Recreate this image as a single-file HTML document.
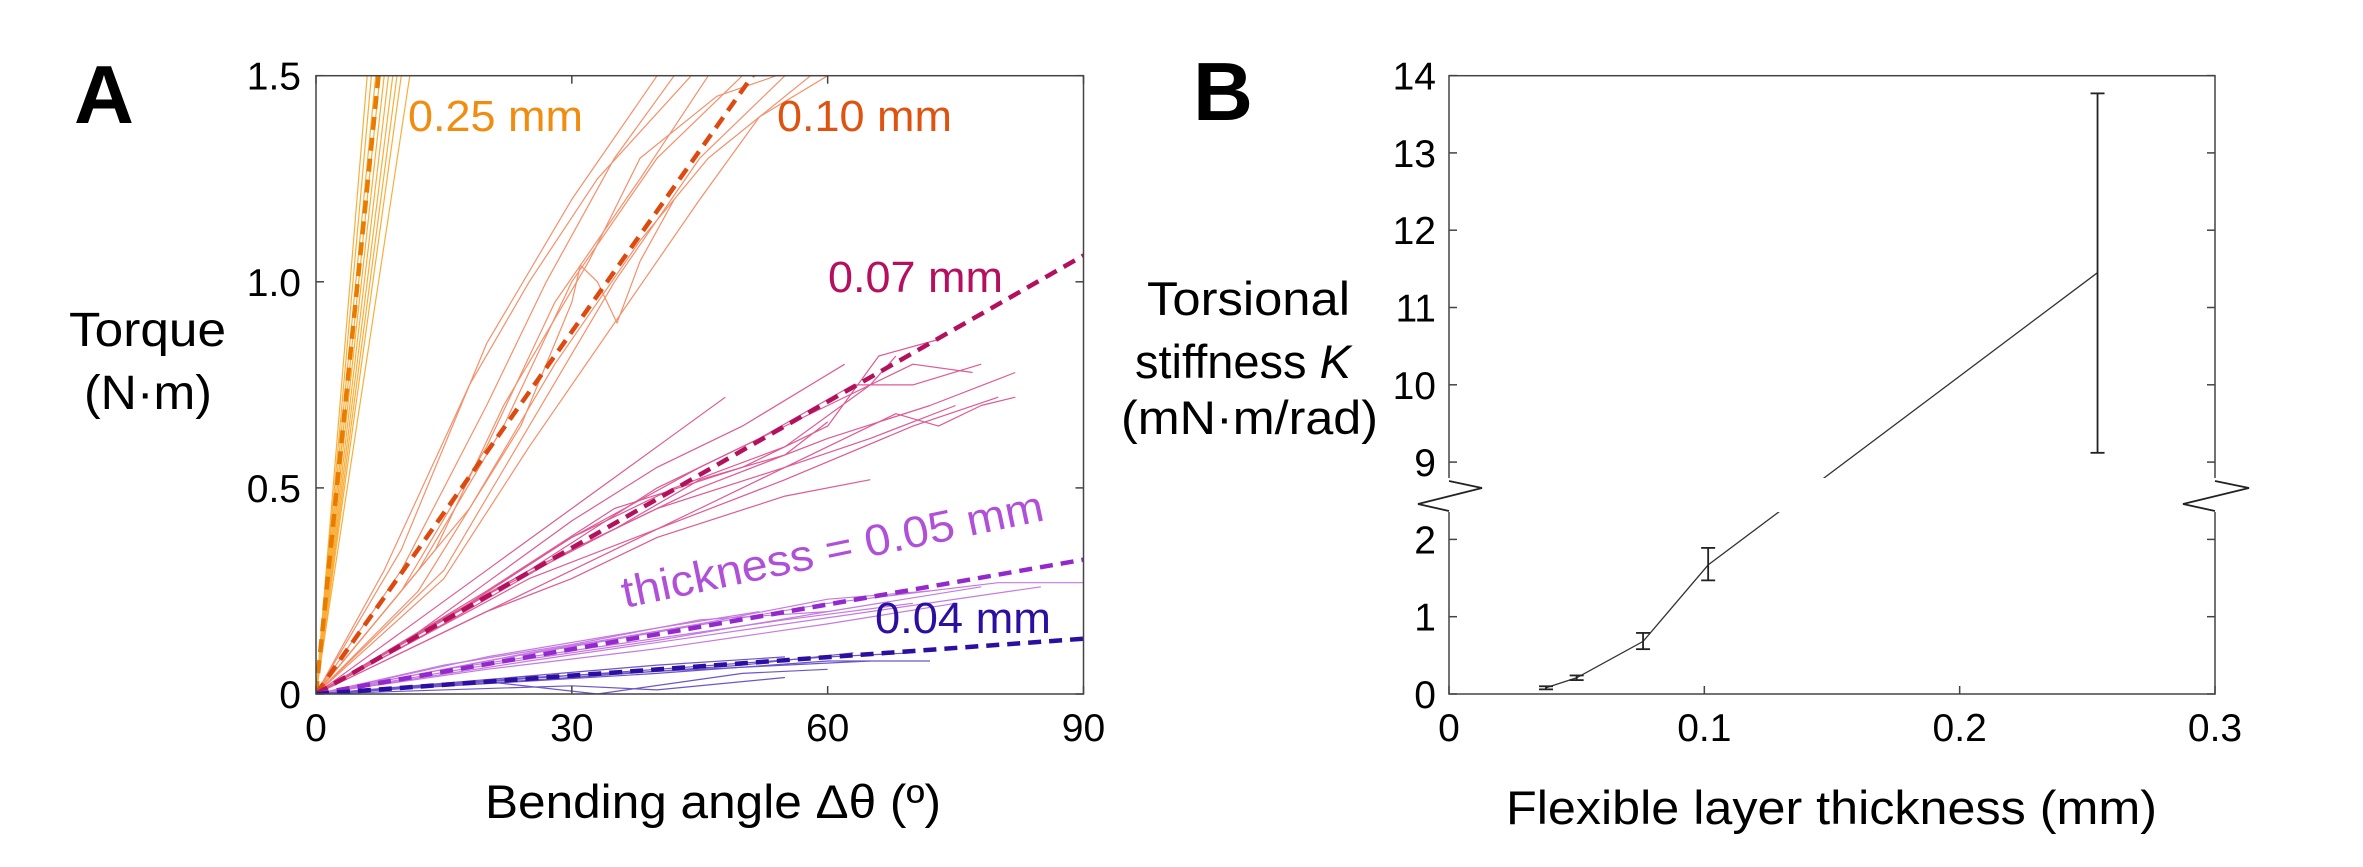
<!DOCTYPE html>
<html><head><meta charset="utf-8"><style>
html,body{margin:0;padding:0;background:#fff;overflow:hidden;}
svg{display:block;}
text{font-family:"Liberation Sans",sans-serif;}
</style></head><body>
<svg id="fig" width="2363" height="867" viewBox="0 0 2363 867" xmlns="http://www.w3.org/2000/svg">
<defs><clipPath id="clipA"><rect x="316" y="75.7" width="768" height="618.3"/></clipPath></defs>
<rect width="2363" height="867" fill="#fff"/>
<text x="74" y="123" font-size="83" font-weight="bold">A</text>
<text x="1193" y="120" font-size="83" font-weight="bold">B</text>
<g id="gA"></g>
<g id="gB"></g>
</svg>
<script>
// ---------- Panel A data ----------
const groupNames = ["0.25 mm","0.10 mm","0.07 mm","0.05 mm","0.04 mm"];
const fitSlopes = [0.2046, 0.0293, 0.01182, 0.00362, 0.00149]; // N·m per degree
const xTicksA = [0,30,60,90];
const yTicksA = [0,0.5,1.0,1.5];
const yTickLabelsA = ["0","0.5","1.0","1.5"];
const curves025 = [[[0,0],[6.5,1.5]],[[0,0],[7,1.5]],[[0,0],[7.5,1.5]],[[0,0],[8,1.5]],[[0,0],[8.5,1.5]],[[0,0],[9,1.5]],[[0,0],[9.5,1.5]],[[0,0],[10,1.5]],[[0,0],[11,1.5]],[[0,0],[6,1.5]]];
const curves010 = [
[[0,0],[10,0.35],[20,0.85],[30,1.2],[40,1.5]],
[[0,0],[10,0.3],[20,0.7],[27,1.0],[35,1.3],[42,1.5]],
[[0,0],[10,0.25],[20,0.6],[28,0.95],[38,1.25],[46,1.5]],
[[0,0],[12,0.3],[22,0.65],[30,1.0],[40,1.3],[50,1.5]],
[[0,0],[12,0.25],[24,0.65],[30,0.95],[31,1.04],[33,1.0],[35.3,0.9],[38,1.05],[42,1.2]],
[[0,0],[15,0.3],[25,0.65],[35,1.0],[45,1.3],[55,1.5]],
[[0,0],[15,0.28],[25,0.6],[35,0.9],[45,1.2],[52,1.4],[60,1.5]],
[[0,0],[8,0.3],[18,0.75],[25,1.0],[33,1.25],[44,1.5]],
[[0,0],[14,0.35],[22,0.7],[32,1.05],[38,1.3],[47,1.45],[54,1.5]],
[[0,0],[18,0.45],[28,0.8],[38,1.1],[46,1.3],[58,1.5]]];
const curves007 = [
[[0,0],[10,0.15],[20,0.3],[30,0.45],[40,0.6],[48,0.72]],
[[0,0],[10,0.12],[20,0.27],[30,0.42],[40,0.55],[50,0.65],[62,0.8]],
[[0,0],[15,0.18],[30,0.38],[45,0.55],[60,0.7],[70,0.8],[77,0.78]],
[[0,0],[15,0.17],[30,0.35],[45,0.5],[60,0.62],[72,0.7],[82,0.78]],
[[0,0],[12,0.15],[25,0.3],[40,0.45],[55,0.55],[65,0.62],[75,0.7]],
[[0,0],[15,0.15],[30,0.3],[45,0.45],[60,0.6],[68,0.68],[73,0.65],[78,0.7],[82,0.72]],
[[0,0],[20,0.25],[35,0.45],[50,0.55],[60,0.65],[66,0.82],[73,0.86]],
[[0,0],[20,0.2],[30,0.28],[40,0.38],[55,0.48],[65,0.52]],
[[0,0],[18,0.22],[30,0.38],[42,0.5],[55,0.6],[65,0.75],[68,0.82]],
[[0,0],[25,0.3],[40,0.5],[52,0.62],[63,0.75],[70,0.75],[78,0.8]],
[[0,0],[20,0.24],[35,0.4],[45,0.52],[55,0.58],[60,0.66]],
[[0,0],[25,0.28],[40,0.4],[55,0.52],[70,0.65],[80,0.72]]];
const curves005 = [
[[0,0],[20,0.08],[40,0.15],[60,0.22],[80,0.27],[90,0.27]],
[[0,0],[20,0.07],[40,0.13],[60,0.2],[78,0.26]],
[[0,0],[15,0.06],[35,0.12],[55,0.18],[70,0.22]],
[[0,0],[20,0.09],[40,0.16],[52,0.2]],
[[0,0],[25,0.08],[45,0.14],[65,0.2],[85,0.26]],
[[0,0],[20,0.06],[40,0.11],[60,0.17],[75,0.22]],
[[0,0],[15,0.07],[30,0.12],[45,0.18],[60,0.2]],
[[0,0],[25,0.1],[45,0.17],[60,0.23],[72,0.25]]];
const curves004 = [
[[0,0],[20,0.03],[40,0.06],[60,0.09],[70,0.1]],
[[0,0],[20,0.025],[40,0.05],[60,0.08],[72,0.08]],
[[0,0],[15,0.02],[30,0.04],[50,0.07],[63,0.1]],
[[0,0],[20,0.03],[33,0.0],[50,0.05],[60,0.06]],
[[0,0],[25,0.04],[45,0.06],[65,0.08]],
[[0,0],[20,0.035],[40,0.07],[55,0.09]],
[[0,0],[30,0.02],[40,0.01],[55,0.04]]];

// ---------- Panel B data ----------
const thickness = [0.038, 0.050, 0.076, 0.1015, 0.254];
const stiffness = [0.08, 0.21, 0.68, 1.67, 11.45];
const errLow = [0.06, 0.18, 0.58, 1.47, 9.12];
const errHigh = [0.10, 0.24, 0.79, 1.89, 13.77];
const xTicksB = [0, 0.1, 0.2, 0.3];
const yTicksB = [0,1,2,9,10,11,12,13,14];

const NS="http://www.w3.org/2000/svg";
function mk(parent, tag, attrs, txt){const e=document.createElementNS(NS,tag);for(const k in attrs)e.setAttribute(k,attrs[k]);if(txt!==undefined)e.textContent=txt;parent.appendChild(e);return e;}

// ---- Panel A ----
const xA=d=>316+d*(767.5/90);
const yA=v=>694-v*412.2;
const gA=document.getElementById('gA');
const lightCols=["#f9ae3a","#f4906a","#de5a94","#c57ae0","#6d55c8"];
const dashCols=["#e87c00","#dd4a10","#b3105e","#9328cc","#2c0ea0"];
const allCurves=[curves025,curves010,curves007,curves005,curves004];
const cg=mk(gA,'g',{'clip-path':'url(#clipA)'});


allCurves.forEach((set,gi)=>{
  set.forEach((c,ci)=>{
    const p=mk(cg,'polyline',{points:c.map(q=>xA(q[0]).toFixed(1)+','+yA(q[1]).toFixed(1)).join(' '),fill:'none',stroke:lightCols[gi],'stroke-width':1.2,'stroke-linejoin':'round'});
    
    
  });
});
fitSlopes.forEach((s,gi)=>{
  const l=mk(cg,'line',{x1:xA(0),y1:yA(0),x2:xA(90),y2:yA(s*90),stroke:dashCols[gi],'stroke-width':4.5,'stroke-dasharray':'13 8'});
  
  
});
mk(gA,'rect',{x:316,y:75.7,width:767.5,height:618.3,fill:'none',stroke:'#444','stroke-width':1.5});
xTicksA.forEach(t=>{
  const x=xA(t);
  mk(gA,'line',{x1:x,y1:694,x2:x,y2:686,stroke:'#444','stroke-width':1.5});
  mk(gA,'line',{x1:x,y1:75.7,x2:x,y2:83.7,stroke:'#444','stroke-width':1.5});
  const tx=mk(gA,'text',{x:x,y:741,'font-size':39,'text-anchor':'middle'},String(t));
  
  
});
yTicksA.forEach((t,i)=>{
  const y=yA(t);
  mk(gA,'line',{x1:316,y1:y,x2:324,y2:y,stroke:'#444','stroke-width':1.5});
  mk(gA,'line',{x1:1083.5,y1:y,x2:1075.5,y2:y,stroke:'#444','stroke-width':1.5});
  const tx=mk(gA,'text',{x:301,y:y+14,'font-size':39,'text-anchor':'end'},yTickLabelsA[i]);
  
  
});
function lab(parent,name,x,y,size,txt,col,len,extra){const t=mk(parent,'text',Object.assign({x:x,y:y,'font-size':size,fill:col},len?{textLength:len,lengthAdjust:'spacingAndGlyphs'}:{},extra||{}),txt);return t;}
lab(gA,'label-025',408,131,44,'0.25 mm','#f08c10',175);
lab(gA,'label-010',777,131,44,'0.10 mm','#de5310',175);
lab(gA,'label-007',828,292,44,'0.07 mm','#b5105f',175);
lab(gA,'label-005',625,608,44,'thickness  = 0.05 mm','#b050d8',430,{transform:'rotate(-11.8 625 608)'});
lab(gA,'label-004',875,633,44,'0.04 mm','#2c0ea0',176);
lab(gA,'x-axis-title',485,818,47,'Bending angle Δθ (º)','#000',456);
lab(gA,'y-axis-title-line1',69,346,48,'Torque','#000',157);
lab(gA,'y-axis-title-line2',84,409,48,'(N·m)','#000',128);

// ---- Panel B ----
const xB=t=>1449+t*2553.3;
const uB=v=>v<5?v:v-6;
const yB=v=>694-uB(v)*77.3;
const gB=document.getElementById('gB');
mk(gB,'rect',{x:1449,y:75.7,width:766,height:618.3,fill:'none',stroke:'#444','stroke-width':1.5});
xTicksB.forEach(t=>{
  const x=xB(t);
  mk(gB,'line',{x1:x,y1:694,x2:x,y2:686,stroke:'#444','stroke-width':1.5});
  const tx=mk(gB,'text',{x:x,y:741,'font-size':39,'text-anchor':'middle'},String(t));
  
  
});
yTicksB.forEach(t=>{
  const y=yB(t);
  mk(gB,'line',{x1:1449,y1:y,x2:1457,y2:y,stroke:'#444','stroke-width':1.5});
  mk(gB,'line',{x1:2215,y1:y,x2:2207,y2:y,stroke:'#444','stroke-width':1.5});
  const tx=mk(gB,'text',{x:1436,y:y+14,'font-size':39,'text-anchor':'end'},String(t));
  
  
});
const ln=mk(gB,'polyline',{points:thickness.map((t,i)=>xB(t).toFixed(1)+','+yB(stiffness[i]).toFixed(1)).join(' '),fill:'none',stroke:'#333','stroke-width':1.3});


thickness.forEach((t,i)=>{
  const x=xB(t);const eg=mk(gB,'g',{stroke:'#222','stroke-width':1.8});
  
  
  mk(eg,'line',{x1:x,y1:yB(errLow[i]),x2:x,y2:yB(errHigh[i])});
  mk(eg,'line',{x1:x-7,y1:yB(errLow[i]),x2:x+7,y2:yB(errLow[i])});
  mk(eg,'line',{x1:x-7,y1:yB(errHigh[i]),x2:x+7,y2:yB(errHigh[i])});
});
// axis break
const br=mk(gB,'g',{});


mk(br,'rect',{x:1440,y:478,width:785,height:34,fill:'#fff'});
mk(br,'polyline',{points:'1449,481 1482,488 1418,504 1449,511',fill:'none',stroke:'#222','stroke-width':1.8});
mk(br,'polyline',{points:'2215,481 2249,488 2183,504 2215,511',fill:'none',stroke:'#222','stroke-width':1.8});
lab(gB,'x-axis-title-b',1506,824,47,'Flexible layer thickness (mm)','#000',651);
lab(gB,'y-axis-title-b-line1',1147,315,47,'Torsional','#000',203);
const yt2=lab(gB,'y-axis-title-b-line2',1135,378,47,'stiffness ','#000');
mk(yt2,'tspan',{'font-style':'italic'},'K');
lab(gB,'y-axis-title-b-line3',1121,434,47,'(mN·m/rad)','#000',257);
</script>
</body></html>
